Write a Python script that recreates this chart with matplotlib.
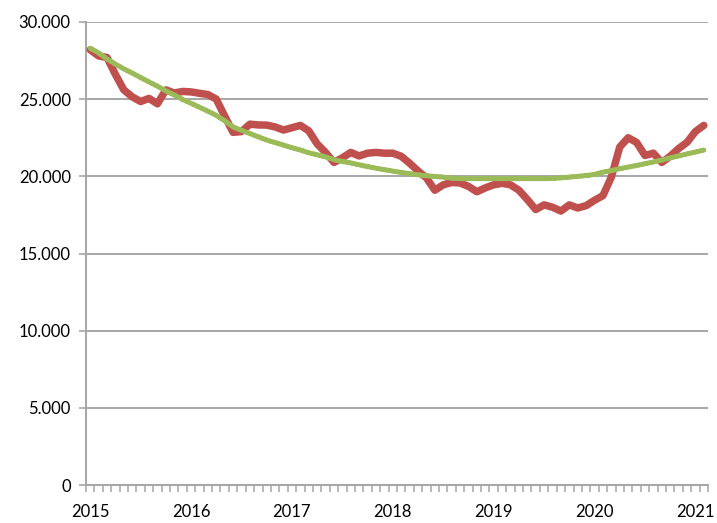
import matplotlib
matplotlib.use("Agg")
import matplotlib.pyplot as plt
from matplotlib.ticker import FuncFormatter, FixedLocator

plt.rcParams["font.family"] = ["Lato", "DejaVu Sans"]

# monthly values, Jan 2015 .. Feb 2021
YEARS = ["2015", "2016", "2017", "2018", "2019", "2020", "2021"]

ACTUAL = [
    28200, 27800, 27700, 26600, 25600, 25150, 24850, 25050, 24700, 25600,
    25400, 25500, 25470, 25380, 25300, 25000, 23900, 22850, 22900, 23380,
    23330, 23320, 23200, 23000, 23150, 23300, 22950, 22100, 21550, 20900,
    21200, 21550, 21320, 21500, 21550, 21500, 21500, 21300, 20850, 20350,
    19900, 19100, 19450, 19600, 19570, 19350, 19000, 19250, 19450, 19550,
    19450, 19100, 18500, 17850, 18150, 18000, 17750, 18150, 17950, 18100,
    18450, 18750, 19950, 21900, 22500, 22200, 21350, 21500, 20900, 21300,
    21800, 22200, 22900, 23300,
]

TREND = [
    28300, 28000, 27600, 27270, 26960, 26690, 26400, 26110, 25840, 25540,
    25270, 24980, 24730, 24480, 24220, 23950, 23600, 23200, 22980, 22770,
    22560, 22350, 22190, 22020, 21860, 21700, 21530, 21400, 21260, 21080,
    20960, 20870, 20750, 20630, 20530, 20430, 20340, 20250, 20170, 20100,
    20040, 19990, 19950, 19880, 19850, 19850, 19850, 19850, 19850, 19850,
    19850, 19850, 19850, 19850, 19850, 19860, 19900, 19950, 20000, 20050,
    20120, 20270, 20370, 20500, 20600, 20700, 20820, 20930, 21050, 21200,
    21320, 21450, 21570, 21700,
]

months = list(range(len(ACTUAL)))

fig = plt.figure(figsize=(7.17, 5.23), dpi=100)
ax = fig.add_axes([86 / 717, 38 / 523, 622 / 717, 463 / 523])

grid_color = "#A6A6A6"
ax.set_ylim(0, 30000)
ax.set_xlim(-0.5, len(months) - 0.5)
ax.yaxis.set_major_locator(FixedLocator(range(0, 30001, 5000)))
ax.yaxis.grid(True, color=grid_color, linewidth=1.4)
ax.set_axisbelow(True)

ax.plot(months, ACTUAL, color="#C0504D", linewidth=5.4,
        solid_capstyle="round", solid_joinstyle="round", zorder=3)
ax.plot(months, TREND, color="#9BBB59", linewidth=3.6,
        linestyle=(0, (0.6, 0.25)), dash_capstyle="round", zorder=4)


def thousands(v, _pos):
    return f"{int(v):,}".replace(",", ".")


ax.yaxis.set_major_formatter(FuncFormatter(thousands))

# year labels every 12 months, small tick between each month
ax.set_xticks(range(0, len(months), 12))
ax.set_xticklabels(YEARS)
ax.set_xticks([m - 0.5 for m in range(len(months) + 1)], minor=True)
ax.tick_params(axis="x", which="major", length=0, pad=14, labelsize=12)
ax.tick_params(axis="x", which="minor", length=5, width=1.1, color=grid_color)
ax.tick_params(axis="y", length=5, width=1.2, color=grid_color, pad=6,
               labelsize=12)

for side in ("top", "right"):
    ax.spines[side].set_visible(False)
for side in ("left", "bottom"):
    ax.spines[side].set_color(grid_color)
    ax.spines[side].set_linewidth(1.4)

fig.savefig("out.png", dpi=100)
